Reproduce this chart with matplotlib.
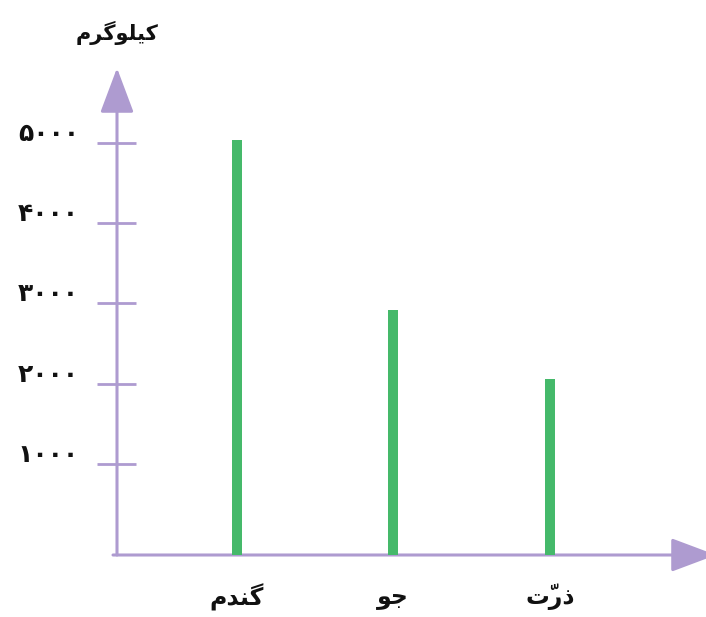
import matplotlib
matplotlib.use('Agg')
import matplotlib.pyplot as plt
from matplotlib.patches import FancyArrowPatch

# data
categories = ['گندم', 'جو', 'ذرّت']
amounts = [5030, 2920, 2060]
tick_values = [1000, 2000, 3000, 4000, 5000]
tick_labels = ['۱۰۰۰', '۲۰۰۰', '۳۰۰۰', '۴۰۰۰', '۵۰۰۰']
y_title = 'کیلوگرم'

purple = '#ae9bd0'
green = '#45b96a'

# minimal arabic shaping for the letters used (matplotlib has no shaper)
# letter: (isolated, final, initial, medial)
FORMS = {
    'گ': ('\uFB92', '\uFB93', '\uFB94', '\uFB95'),
    'ک': ('\uFB8E', '\uFB8F', '\uFB90', '\uFB91'),
    'ی': ('\uFBFC', '\uFBFD', '\uFBFE', '\uFBFF'),
    'ن': ('\uFEE5', '\uFEE6', '\uFEE7', '\uFEE8'),
    'م': ('\uFEE1', '\uFEE2', '\uFEE3', '\uFEE4'),
    'ج': ('\uFE9D', '\uFE9E', '\uFE9F', '\uFEA0'),
    'ت': ('\uFE95', '\uFE96', '\uFE97', '\uFE98'),
    'ل': ('\uFEDD', '\uFEDE', '\uFEDF', '\uFEE0'),
    'د': ('\uFEA9', '\uFEAA', None, None),
    'ذ': ('\uFEAB', '\uFEAC', None, None),
    'ر': ('\uFEAD', '\uFEAE', None, None),
    'و': ('\uFEED', '\uFEEE', None, None),
}
MARKS = '\u0651'


def shape(word):
    clusters = []
    for ch in word:
        if ch in MARKS and clusters:
            clusters[-1][1] += ch
        else:
            clusters.append([ch, ''])
    out = []
    for k, (ch, marks) in enumerate(clusters):
        if ch not in FORMS:
            out.append(marks + ch)
            continue
        prev = clusters[k - 1][0] if k > 0 else None
        nxt = clusters[k + 1][0] if k + 1 < len(clusters) else None
        joins_prev = prev in FORMS and FORMS[prev][2] is not None
        joins_next = nxt in FORMS and FORMS[ch][2] is not None
        iso, fin, ini, med = FORMS[ch]
        if joins_prev and joins_next:
            g = med
        elif joins_prev:
            g = fin
        elif joins_next:
            g = ini
        else:
            g = iso
        # mark goes first so it lands on its own letter
        out.append(marks + g)
    return ''.join(out[::-1])


W, H = 706, 617
fig = plt.figure(figsize=(W / 100, H / 100), dpi=100)
ax = fig.add_axes([0, 0, 1, 1])

# layout: category i sits at x0 + dx*i pixels, value v at y0 - dy*v pixels
x0, dx = 236.8, 156.5
y0, dy = 544.1, 0.0803


def px2x(p):
    return (p - x0) / dx


def px2y(p):
    return (y0 - p) / dy


ax.set_xlim(px2x(0), px2x(W))
ax.set_ylim(px2y(H), px2y(0))
ax.axis('off')

axis_x = px2x(117)
base = px2y(555)

# axes with arrow heads
head = '-|>,head_length=28,head_width=10.5'
ax.add_patch(FancyArrowPatch((px2x(113), base), (px2x(716), base),
                             arrowstyle=head, mutation_scale=1, color=purple,
                             lw=2.2, shrinkA=0, shrinkB=0, clip_on=False))
ax.add_patch(FancyArrowPatch((axis_x, base), (axis_x, px2y(68)),
                             arrowstyle=head, mutation_scale=1, color=purple,
                             lw=2.2, shrinkA=0, shrinkB=0))

# tick marks crossing the y axis
ax.hlines(tick_values, px2x(97), px2x(136), color=purple, lw=2)
for v, lab in zip(tick_values, tick_labels):
    ax.text(px2x(79), v + 9 / dy, lab, ha='right', va='center', fontsize=18,
            fontweight='bold', family='DejaVu Sans', color='#111111')

# bars
x = list(range(len(categories)))
ax.bar(x, [a - base for a in amounts], bottom=base, width=10 / dx, color=green)

for i, c in enumerate(categories):
    ax.text(i, px2y(597), shape(c), ha='center', va='center', fontsize=17,
            fontweight='bold', family='DejaVu Sans', color='#111111')

ax.text(axis_x, px2y(33), shape(y_title), ha='center', va='center', fontsize=15,
        fontweight='bold', family='DejaVu Sans', color='#111111')

fig.savefig('out.png', dpi=100)
